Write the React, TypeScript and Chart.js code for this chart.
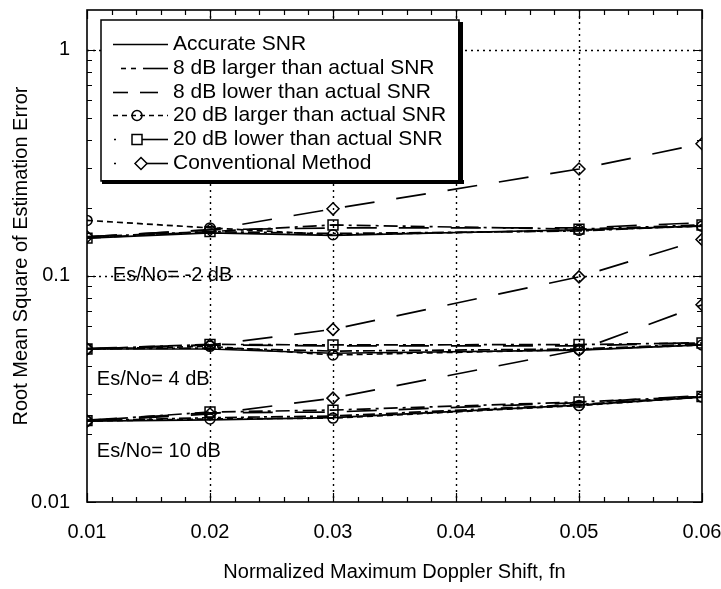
import React, { useEffect, useRef } from "react";
import { Chart, registerables } from "chart.js";

Chart.register(...registerables);

// ---------- data ----------
const xValues = [0.01, 0.02, 0.03, 0.05, 0.06];

const seriesNames = [
  "Accurate SNR",
  "8 dB larger than actual SNR",
  "8 dB lower than actual SNR",
  "20 dB larger than actual SNR",
  "20 dB lower than actual SNR",
  "Conventional Method",
];

// Es/No = -2 dB
const accM2 = [0.147, 0.155, 0.151, 0.16, 0.166];
const p8M2 = [0.149, 0.157, 0.154, 0.158, 0.167];
const m8M2 = [0.149, 0.16, 0.163, 0.163, 0.172];
const p20M2 = [0.176, 0.163, 0.152, 0.159, 0.166];
const m20M2 = [0.147, 0.157, 0.168, 0.161, 0.168];
const convM2 = [0.149, 0.16, 0.198, 0.297, 0.384];

// Es/No = 4 dB
const acc4 = [0.0475, 0.0475, 0.0455, 0.047, 0.0495];
const p8_4 = [0.0475, 0.048, 0.0465, 0.0475, 0.05];
const m8_4 = [0.0478, 0.0495, 0.049, 0.049, 0.0508];
const p20_4 = [0.0475, 0.0488, 0.0447, 0.0472, 0.0495];
const m20_4 = [0.0475, 0.0498, 0.0495, 0.0497, 0.0505];
const conv4 = [0.0475, 0.0495, 0.058, 0.099, 0.145];

// Es/No = 10 dB
const acc10 = [0.0228, 0.0231, 0.0236, 0.0268, 0.0291];
const p8_10 = [0.0229, 0.0236, 0.024, 0.027, 0.0293];
const m8_10 = [0.023, 0.0248, 0.025, 0.0275, 0.0296];
const p20_10 = [0.0228, 0.0233, 0.0235, 0.0267, 0.0291];
const m20_10 = [0.0229, 0.025, 0.0255, 0.0277, 0.0293];
const conv10 = [0.0228, 0.0245, 0.0288, 0.047, 0.0745];

const groups = [
  [accM2, p8M2, m8M2, p20M2, m20M2, convM2],
  [acc4, p8_4, m8_4, p20_4, m20_4, conv4],
  [acc10, p8_10, m8_10, p20_10, m20_10, conv10],
];

const xTickValues = [0.01, 0.02, 0.03, 0.04, 0.05, 0.06];
const yTickValues = [0.01, 0.1, 1];
const xMinorStep = 0.002;
const yMinorMultipliers = [2, 3, 4, 5, 6, 7, 8, 9];

const annotationTexts = ["Es/No= -2 dB", "Es/No= 4 dB", "Es/No= 10 dB"];
const annotationX = [0.0121, 0.0108, 0.0108];
const annotationY = [0.1, 0.0347, 0.01665];

// ---------- styles ----------
const FONT = '"Liberation Sans", Arial, Helvetica, sans-serif';
const seriesStyles = [
  { dash: [] as number[], point: "circle", radius: 0 },
  { dash: [12, 4, 3, 4], point: "circle", radius: 0 },
  { dash: [30, 22], point: "circle", radius: 0 },
  { dash: [6, 4], point: "circle", radius: 5 },
  { dash: [14, 5, 3, 5], point: "rect", radius: 7 },
  { dash: [30, 22], point: "rectRot", radius: 6 },
];

function buildDatasets() {
  const ds: any[] = [];
  groups.forEach((g, gi) => {
    g.forEach((arr, si) => {
      const st = seriesStyles[si];
      ds.push({
        label: gi === 0 ? seriesNames[si] : seriesNames[si] + " " + gi,
        data: xValues.map((x, i) => ({ x, y: arr[i] })),
        borderColor: "#000",
        backgroundColor: "rgba(0,0,0,0)",
        borderWidth: 1.7,
        borderDash: st.dash,
        pointStyle: st.point,
        pointRadius: st.radius,
        pointBorderWidth: 1.5,
        pointBorderColor: "#000",
        pointBackgroundColor: "rgba(0,0,0,0)",
        tension: 0,
        fill: false,
      });
    });
  });
  return ds;
}

function drawMarker(ctx: CanvasRenderingContext2D, kind: string, x: number, y: number) {
  ctx.save();
  ctx.setLineDash([]);
  ctx.lineWidth = 1.5;
  ctx.beginPath();
  if (kind === "circle") {
    ctx.arc(x, y, 5, 0, Math.PI * 2);
  } else if (kind === "rect") {
    ctx.rect(x - 5, y - 5, 10, 10);
  } else if (kind === "rectRot") {
    ctx.moveTo(x, y - 6);
    ctx.lineTo(x + 6, y);
    ctx.lineTo(x, y + 6);
    ctx.lineTo(x - 6, y);
    ctx.closePath();
  }
  ctx.stroke();
  ctx.restore();
}

const framePlugin = {
  id: "frame",
  beforeDatasetsDraw(chart: any) {
    const { ctx, chartArea: a, scales } = chart;
    const x = scales.x;
    const y = scales.y;
    ctx.save();
    ctx.strokeStyle = "#000";
    ctx.lineWidth = 1.4;
    ctx.setLineDash([2, 4]);
    xTickValues.forEach((v) => {
      const px = Math.round(x.getPixelForValue(v)) + 0.5;
      if (px > a.left + 3 && px < a.right - 3) {
        ctx.beginPath();
        ctx.moveTo(px, a.top);
        ctx.lineTo(px, a.bottom);
        ctx.stroke();
      }
    });
    yTickValues.forEach((v) => {
      const py = Math.round(y.getPixelForValue(v)) + 0.5;
      if (py > a.top + 3 && py < a.bottom - 3) {
        ctx.beginPath();
        ctx.moveTo(a.left, py);
        ctx.lineTo(a.right, py);
        ctx.stroke();
      }
    });
    ctx.restore();
  },
  afterDatasetsDraw(chart: any) {
    const { ctx, chartArea: a, scales } = chart;
    const x = scales.x;
    const y = scales.y;
    ctx.save();
    ctx.strokeStyle = "#000";
    ctx.setLineDash([]);
    // frame
    ctx.lineWidth = 1.6;
    ctx.strokeRect(a.left, a.top, a.right - a.left, a.bottom - a.top);
    // x ticks (inward, top and bottom)
    ctx.lineWidth = 1.2;
    const xMin = xTickValues[0];
    const xMax = xTickValues[xTickValues.length - 1];
    const nMinor = Math.round((xMax - xMin) / xMinorStep);
    for (let i = 0; i <= nMinor; i++) {
      const v = xMin + i * xMinorStep;
      const px = Math.round(x.getPixelForValue(v)) + 0.5;
      const major = i % 5 === 0;
      const len = major ? 9 : 5;
      ctx.beginPath();
      ctx.moveTo(px, a.bottom);
      ctx.lineTo(px, a.bottom - len);
      ctx.moveTo(px, a.top);
      ctx.lineTo(px, a.top + len);
      ctx.stroke();
    }
    // y ticks (log, inward, left and right)
    const yTicksAll: { v: number; major: boolean }[] = [];
    yTickValues.forEach((d) => {
      yTicksAll.push({ v: d, major: true });
      yMinorMultipliers.forEach((m) => yTicksAll.push({ v: d * m, major: false }));
    });
    yTicksAll.forEach((t) => {
      if (t.v > y.max) return;
      const py = Math.round(y.getPixelForValue(t.v)) + 0.5;
      const len = t.major ? 9 : 5;
      ctx.beginPath();
      ctx.moveTo(a.left, py);
      ctx.lineTo(a.left + len, py);
      ctx.moveTo(a.right, py);
      ctx.lineTo(a.right - len, py);
      ctx.stroke();
    });
    // annotations
    ctx.fillStyle = "#000";
    ctx.font = `20px ${FONT}`;
    ctx.textAlign = "left";
    ctx.textBaseline = "middle";
    annotationTexts.forEach((t, i) => {
      ctx.fillText(t, x.getPixelForValue(annotationX[i]), y.getPixelForValue(annotationY[i]));
    });
    ctx.restore();
  },
  afterDraw(chart: any) {
    const { ctx } = chart;
    const x0 = 101, y0 = 20, x1 = 459, y1 = 181;
    ctx.save();
    ctx.fillStyle = "#fff";
    ctx.fillRect(x0, y0, x1 - x0, y1 - y0);
    ctx.strokeStyle = "#000";
    ctx.lineWidth = 1.5;
    ctx.setLineDash([]);
    ctx.strokeRect(x0, y0, x1 - x0, y1 - y0);
    ctx.fillStyle = "#000";
    ctx.fillRect(x0 + 1, y1 - 1, x1 - x0 + 4, 4);
    ctx.fillRect(x1 - 1, y0 + 2, 5, y1 - y0 + 1);

    const lx0 = 113, lx1 = 168, mx = 140;
    ctx.lineWidth = 1.6;
    ctx.font = `21px ${FONT}`;
    ctx.textAlign = "left";
    ctx.textBaseline = "middle";
    const seg = (a: number, b: number, yy: number, dash: number[] = []) => {
      ctx.setLineDash(dash);
      ctx.beginPath();
      ctx.moveTo(a, yy);
      ctx.lineTo(b, yy);
      ctx.stroke();
      ctx.setLineDash([]);
    };
    seriesNames.forEach((name, i) => {
      const yy = Math.round(44 + i * 23.8) + 0.5;
      if (i === 0) seg(lx0, lx1, yy);
      else if (i === 1) {
        seg(121, 126, yy);
        seg(131, 136, yy);
        seg(143, lx1, yy);
      } else if (i === 2) {
        seg(lx0, 128, yy);
        seg(140, 158, yy);
      } else if (i === 3) {
        seg(lx0, lx1, yy, [5, 4]);
        drawMarker(ctx, "circle", mx - 3, yy);
      } else if (i === 4) {
        seg(lx0 + 1, lx0 + 3, yy);
        drawMarker(ctx, "rect", mx - 3, yy);
        seg(mx + 2, lx1, yy);
      } else {
        seg(lx0 + 1, lx0 + 3, yy);
        drawMarker(ctx, "rectRot", mx + 1, yy);
        seg(mx + 7, lx1, yy);
      }
      ctx.fillText(name, 173, yy);
    });
    ctx.restore();
  },
};

export default function App() {
  const ref = useRef<HTMLCanvasElement>(null);
  useEffect(() => {
    if (!ref.current) return;
    const chart = new Chart(ref.current, {
      type: "line",
      data: { datasets: buildDatasets() },
      options: {
        animation: false,
        responsive: false,
        maintainAspectRatio: false,
        devicePixelRatio: 1,
        layout: { padding: { left: 0, right: 19, top: 10, bottom: 0 } },
        plugins: { legend: { display: false }, tooltip: { enabled: false } },
        scales: {
          x: {
            type: "linear",
            min: 0.01,
            max: 0.06,
            afterBuildTicks: (s: any) => {
              s.ticks = xTickValues.map((v) => ({ value: v }));
            },
            afterFit: (s: any) => {
              s.height = 87;
              s.paddingLeft = 0;
              s.paddingRight = 0;
            },
            grid: { display: false, drawTicks: false },
            border: { display: false },
            ticks: {
              padding: 18,
              color: "#000",
              maxRotation: 0,
              autoSkip: false,
              font: { family: FONT, size: 20 },
              callback: (v: any) => Number(v).toFixed(2),
            },
            title: {
              display: true,
              text: "Normalized Maximum Doppler Shift, fn",
              color: "#000",
              font: { family: FONT, size: 20 },
              padding: { top: 0, bottom: 5 },
            },
          },
          y: {
            type: "logarithmic",
            min: 0.01,
            max: 1.5,
            afterBuildTicks: (s: any) => {
              s.ticks = yTickValues.map((v) => ({ value: v }));
            },
            afterFit: (s: any) => {
              s.width = 87;
              s.paddingTop = 0;
              s.paddingBottom = 0;
            },
            grid: { display: false, drawTicks: false },
            border: { display: false },
            ticks: {
              padding: 17,
              color: "#000",
              autoSkip: false,
              font: { family: FONT, size: 20 },
              callback: (v: any) => String(Number(v)),
            },
            title: {
              display: true,
              text: "Root Mean Square of Estimation Error",
              color: "#000",
              font: { family: FONT, size: 20 },
              padding: { top: 9, bottom: 0 },
            },
          },
        },
      } as any,
      plugins: [framePlugin],
    });
    return () => chart.destroy();
  }, []);
  return (
    <div style={{ position: "absolute", left: 0, top: 0, width: 721, height: 589, background: "#fff" }}>
      <canvas ref={ref} width={721} height={589} style={{ display: "block", width: 721, height: 589 }} />
    </div>
  );
}
